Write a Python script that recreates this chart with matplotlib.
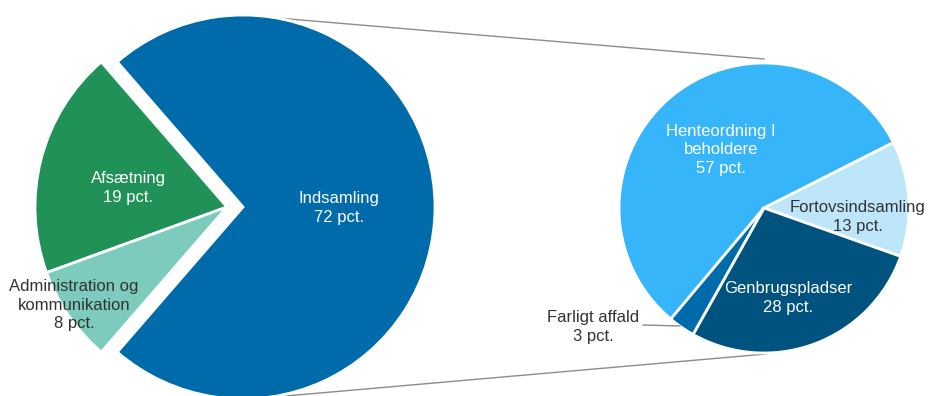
import matplotlib
matplotlib.use("Agg")
import matplotlib.pyplot as plt
import numpy as np

plt.rcParams['font.family'] = ['Liberation Sans', 'DejaVu Sans']

# ---- data ----
main_labels = ["Indsamling", "Afsætning", "Administration og\nkommunikation"]
main_values = [72, 19, 8]
main_colors = ["#006BAA", "#219257", "#7DCBBD"]

sub_labels = ["Henteordning I\nbeholdere", "Fortovsindsamling", "Genbrugspladser", "Farligt affald"]
sub_values = [57, 13, 28, 3]
sub_colors = ["#36B5FA", "#BEE6FA", "#00527F", "#006BAA"]

W, H = 929, 396
fig = plt.figure(figsize=(W / 100, H / 100), dpi=100)
ax = fig.add_axes([0, 0, 1, 1])
ax.set_axis_off()


def P(x, y):
    """pixel (top-left origin) -> data coords"""
    return (x, H - y)


# ---- left pie ----
lc = P(243, 207)
lr = 192
main_span = main_values[0] / sum(main_values) * 360
wedges, _ = ax.pie(main_values, colors=main_colors, radius=lr, center=lc,
                   startangle=-main_span / 2, counterclock=True,
                   wedgeprops=dict(edgecolor="white", linewidth=2))
for w in wedges[1:]:
    w.set_center((lc[0] - 16, lc[1]))

# ---- right pie ----
rc = P(764, 208)
rr = 145
sub_start = 180 + 50
wedges2, _ = ax.pie(sub_values, colors=sub_colors, radius=rr, center=rc,
                    startangle=sub_start, counterclock=False,
                    wedgeprops=dict(edgecolor="white", linewidth=2))

ax.set_xlim(0, W)
ax.set_ylim(0, H)
ax.set_aspect("equal")

# ---- connector lines ----
a_top = np.deg2rad(80)
a_bot = np.deg2rad(-84)
ax.plot([lc[0] + lr * np.cos(a_top), rc[0]], [lc[1] + lr * np.sin(a_top), rc[1] + rr + 4],
        color="#8C8C8C", lw=1, clip_on=False, zorder=0)
ax.plot([lc[0] + lr * np.cos(a_bot), rc[0] + 2], [lc[1] + lr * np.sin(a_bot), rc[1] - rr - 1],
        color="#8C8C8C", lw=1, clip_on=False, zorder=0)

fs = 12
white = "white"
dark = "#333333"

def lab(txt, val, xy, color):
    ax.text(*P(*xy), f"{txt}\n{val} pct.", ha="center", va="center",
            fontsize=fs, color=color, linespacing=1.3)

lab(main_labels[0], main_values[0], (339, 208), white)
lab(main_labels[1], main_values[1], (128, 188), white)
lab(main_labels[2], main_values[2], (74, 305), dark)

lab(sub_labels[0], sub_values[0], (721, 150), white)
lab(sub_labels[1], sub_values[1], (858, 217), dark)
lab(sub_labels[2], sub_values[2], (788, 298), white)
lab(sub_labels[3], sub_values[3], (593, 327), dark)

# leader line for Farligt affald
ax.plot([P(643, 325)[0], P(680, 326)[0]], [P(643, 325)[1], P(680, 326)[1]],
        color="#8C8C8C", lw=1)

fig.savefig("out.png", dpi=100)
